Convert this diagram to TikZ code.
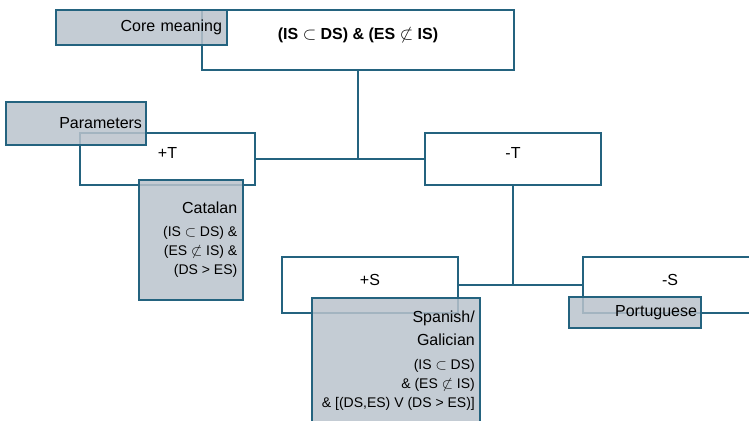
\documentclass[tikz,border=0pt]{standalone}
\usepackage{fontspec}
\setmainfont{Liberation Sans}
\definecolor{edge}{HTML}{24637F}
\definecolor{greyfill}{HTML}{BAC3CC}
\newcommand{\sbs}{\ensuremath{\subset}}
\newcommand{\nsbs}{\ensuremath{\not\subset}}
\begin{document}
\begin{tikzpicture}[x=1pt,y=-1pt,
  font=\fontsize{16}{19}\selectfont,
  wbox/.style={draw=edge, line width=1.8pt, fill=white, rectangle, inner sep=0pt},
  gbox/.style={draw=edge, line width=1.8pt, fill=greyfill, fill opacity=0.85, text opacity=1, rectangle, inner ysep=0pt},
  conn/.style={draw=edge, line width=1.8pt},
  txt/.style={inner sep=0pt},
  formula/.style={inner sep=0pt, anchor=north east, align=right, font=\fontsize{14}{19}\selectfont}]
\useasboundingbox (0,0) rectangle (749,420);
% white boxes
\node[wbox, minimum width=312pt, minimum height=60pt] (top) at (358,40) {};
\node[wbox, minimum width=175pt, minimum height=52pt] (plusT) at (167.5,159) {};
\node[wbox, minimum width=176pt, minimum height=52pt] (minusT) at (513,159) {};
\node[wbox, minimum width=176pt, minimum height=56pt] (plusS) at (370,285) {};
\node[wbox, minimum width=174pt, minimum height=56pt] (minusS) at (670,285) {};
% connectors
\draw[conn] (top.south) -- (top.south |- plusT.east);
\draw[conn] (plusT.east) -- (minusT.west);
\draw[conn] (minusT.south) -- (minusT.south |- minusS.west);
\draw[conn] (plusS.east) -- (minusS.west);
% labels of white boxes
\node[txt, font=\fontsize{16}{19}\selectfont\bfseries] (topT) at (358,35) {(IS \sbs\ DS) \& (ES \nsbs\ IS)};
\node[txt] (plusTT) at (167.5,152.5) {+T};
\node[txt] (minusTT) at (513,152.5) {-T};
\node[txt] (plusST) at (370,279.5) {+S};
\node[txt] (minusST) at (670,279.5) {-S};
% grey boxes
\node[gbox, minimum height=35pt, text width=161pt, inner xsep=5pt, align=right] (core) at (141.5,27.5) {Core meaning};
\node[gbox, minimum height=43pt, text width=132pt, inner xsep=4pt, align=right] (param) at (76,123.5) {Parameters};
\node[gbox, minimum width=104pt, minimum height=120pt] (cat) at (191,240) {};
\node[gbox, minimum width=168pt, minimum height=142pt] (spa) at (396,369) {};
\node[gbox, minimum height=31pt, text width=124pt, inner xsep=4pt, align=right] (port) at (635,312.5) {Portuguese};
% texts of grey boxes
\node[txt, anchor=north east] (catH) at (237.5,202) {Catalan};
\node[formula] (catF) at (237.5,226.5)
  {(IS \sbs\ DS) \&\\(ES \nsbs\ IS) \&\\(DS > ES)};
\node[txt, anchor=north east, align=right, font=\fontsize{16}{23}\selectfont] (spaH) at (475,310.5)
  {Spanish/\\Galician};
\node[formula] (spaF) at (475,359.5)
  {(IS \sbs\ DS)\\\& (ES \nsbs\ IS)\\\& [(DS,ES) V (DS > ES)]};
\end{tikzpicture}
\end{document}
